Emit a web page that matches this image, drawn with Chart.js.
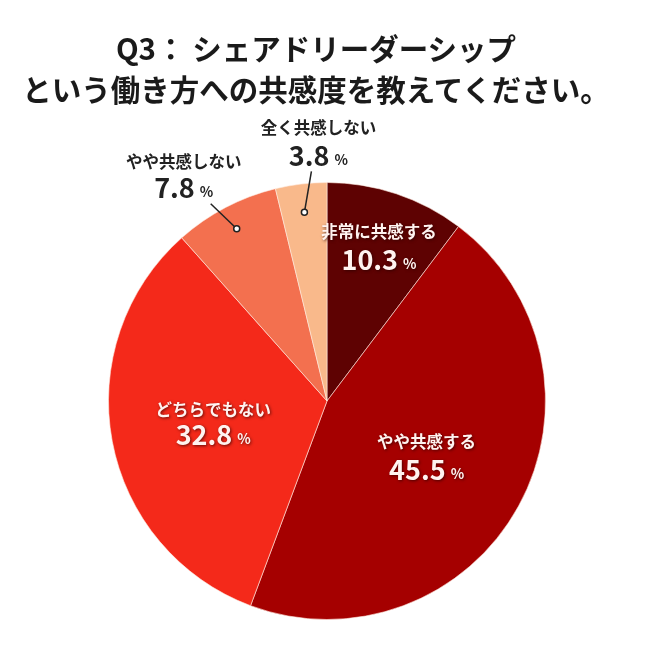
<!DOCTYPE html>
<html lang="ja">
<head>
  <meta charset="UTF-8">
  <title>Q3 シェアドリーダーシップへの共感度</title>
  <style>
    * { margin: 0; padding: 0; box-sizing: border-box; }
    body { background: #fff; width: 650px; height: 663px; overflow: hidden; }
    .wrap { position: relative; width: 650px; height: 663px; }
    h1 {
      position: absolute; left: 0; top: 27px; width: 632px;
      text-align: center;
      font-family: 'Noto Sans CJK JP', sans-serif;
      font-weight: 700; font-size: 29.5px; line-height: 41px;
      color: #1a1a1a;
    }
    canvas { position: absolute; left: 0; top: 0; }
  </style>
  <script src="https://cdn.jsdelivr.net/npm/chart.js"></script>
</head>
<body>
  <div class="wrap">
    <canvas id="pie" width="650" height="663"></canvas>
    <h1>Q3： シェアドリーダーシップ<br>という働き方への共感度を教えてください。</h1>
  </div>

  <script>
    // answers, clockwise from 12 o'clock
    const labels = ['非常に共感する', 'やや共感する', 'どちらでもない', 'やや共感しない', '全く共感しない'];
    const values = [10.3, 45.5, 32.8, 7.8, 3.8];
    const colors = ['#5e0202', '#a50000', '#f4291a', '#f3704f', '#f9b98b'];

    const FONT = "'Noto Sans CJK JP', sans-serif";

    // where each label goes: inside (fraction of radius) or outside with a leader line
    const placement = [
      { inside: true, r: 0.75, gap: 28 },
      { inside: true, r: 0.52, gap: 28 },
      { inside: true, r: 0.53, gap: 25 },
      { inside: false, dot: 0.89, line: [-26, -25], text: [-27, -29], gap: 26 },
      { inside: false, dot: 0.87, line: [7, -41], text: [7, -30], gap: 28 }
    ];

    function drawLabel(ctx, name, val, cx, cy, inside, gap) {
      const num = val.toFixed(1);
      ctx.save();
      ctx.textBaseline = 'middle';
      ctx.fillStyle = inside ? '#fff3f0' : '#222';
      if (inside) {
        ctx.shadowColor = 'rgba(40,0,0,0.7)';
        ctx.shadowBlur = 3;
        ctx.shadowOffsetX = 1;
        ctx.shadowOffsetY = 1;
      }
      ctx.textAlign = 'center';
      ctx.font = `700 16.5px ${FONT}`;
      ctx.fillText(name, cx, cy - gap / 2);
      ctx.font = `700 27px ${FONT}`;
      const wNum = ctx.measureText(num).width;
      ctx.font = `700 14px ${FONT}`;
      const wPct = ctx.measureText('%').width;
      const sp = 5;
      const left = cx - (wNum + sp + wPct) / 2;
      ctx.textAlign = 'left';
      ctx.font = `700 27px ${FONT}`;
      ctx.fillText(num, left, cy + gap / 2);
      ctx.font = `700 14px ${FONT}`;
      ctx.fillText('%', left + wNum + sp, cy + gap / 2 + 4);
      ctx.restore();
    }

    const sliceLabels = {
      id: 'sliceLabels',
      afterDatasetsDraw(chart) {
        const ctx = chart.ctx;
        const meta = chart.getDatasetMeta(0);
        meta.data.forEach((arc, i) => {
          const p = placement[i];
          const { x, y, startAngle, endAngle, outerRadius } = arc.getProps(['x', 'y', 'startAngle', 'endAngle', 'outerRadius'], true);
          const mid = (startAngle + endAngle) / 2;
          const at = f => ({ x: x + Math.cos(mid) * outerRadius * f, y: y + Math.sin(mid) * outerRadius * f });
          if (p.inside) {
            const c = at(p.r);
            drawLabel(ctx, labels[i], values[i], c.x, c.y, true, p.gap);
          } else {
            const d = at(p.dot);
            const e = { x: d.x + p.line[0], y: d.y + p.line[1] };
            ctx.save();
            ctx.strokeStyle = '#222';
            ctx.lineWidth = 1.5;
            ctx.beginPath();
            ctx.moveTo(d.x, d.y);
            ctx.lineTo(e.x, e.y);
            ctx.stroke();
            ctx.beginPath();
            ctx.arc(d.x, d.y, 3, 0, Math.PI * 2);
            ctx.fillStyle = '#fff';
            ctx.fill();
            ctx.stroke();
            ctx.restore();
            drawLabel(ctx, labels[i], values[i], e.x + p.text[0], e.y + p.text[1], false, p.gap);
          }
        });
      }
    };

    new Chart(document.getElementById('pie'), {
      type: 'pie',
      data: {
        labels: labels,
        datasets: [{
          data: values,
          backgroundColor: colors,
          borderColor: 'rgba(255,235,225,0.6)',
          borderWidth: 1
        }]
      },
      options: {
        responsive: false,
        animation: false,
        layout: { padding: { top: 182, bottom: 43, left: 108, right: 104 } },
        plugins: {
          legend: { display: false },
          tooltip: { enabled: false },
          title: { display: false }
        }
      },
      plugins: [sliceLabels]
    });
  </script>
</body>
</html>
